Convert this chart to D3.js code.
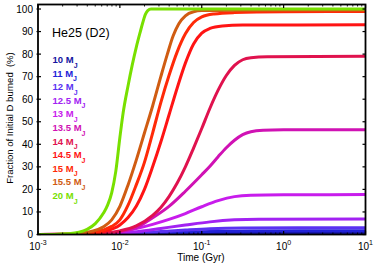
<!DOCTYPE html>
<html>
<head>
<meta charset="utf-8">
<script src="https://cdn.jsdelivr.net/npm/d3@7"></script>
<style>
  body { margin: 0; background: #fff; }
  svg { display: block; font-family: "Liberation Sans", Arial, sans-serif; }
</style>
</head>
<body>
<div id="chart"></div>
<script>
// masses (Jupiter masses) and their colours
var masses = ['10', '11', '12', '12.5', '13', '13.5', '14', '14.5', '15', '15.5', '20'];
var colors = ['#1414a0', '#2222d8', '#5a32f2', '#a222f2', '#c81cec', '#d012b4', '#e0124e', '#ff1414', '#ff2a08', '#d05c12', '#78e000'];

// [log10(time / Gyr), percent of D burned]
var d10 = [[-3, 0], [-1.8, 0.05], [-1.3, 0.2], [-0.8, 0.45], [-0.3, 0.55], [1, 0.6]];
var d11 = [[-3, 0], [-2, 0.05], [-1.6, 0.4], [-1.2, 1.0], [-0.8, 1.4], [-0.4, 1.6], [1, 1.7]];
var d12 = [[-3, 0], [-2.1, 0.1], [-1.8, 0.6], [-1.5, 1.3], [-1.2, 2.0], [-0.9, 2.6], [-0.5, 2.9], [1, 3.0]];
var d125 = [[-3, 0], [-2.2, 0.1], [-2, 0.5], [-1.7, 1.7], [-1.5, 2.7], [-1.2, 4.2], [-0.9, 5.6], [-0.6, 6.5], [-0.3, 6.8], [1, 6.9]];
var d13 = [[-3, 0], [-2.3, 0.1], [-2, 1.0], [-1.8, 2.6], [-1.6, 4.5], [-1.4, 6.7], [-1.2, 9.3], [-1, 12.3], [-0.8, 15.0],
  [-0.6, 16.8], [-0.4, 17.4], [0, 17.6], [1, 17.7]];
var d135 = [[-3, 0], [-2.4, 0.1], [-2, 1.2], [-1.8, 3], [-1.6, 7.4], [-1.4, 12.5], [-1.2, 19.2], [-1, 26.5], [-0.9, 30.3],
  [-0.8, 34.5], [-0.7, 38.5], [-0.6, 41.8], [-0.5, 44.3], [-0.4, 45.6], [-0.25, 46.2], [0, 46.4], [1, 46.5]];
var d14 = [[-3, 0], [-2.5, 0.1], [-2.2, 0.6], [-2, 1.6], [-1.8, 3.8], [-1.6, 8.5], [-1.5, 12], [-1.4, 16.8], [-1.3, 22.8],
  [-1.2, 30], [-1.1, 38.3], [-1, 47], [-0.9, 56], [-0.8, 64], [-0.7, 70.5], [-0.6, 75], [-0.5, 77.5], [-0.4, 78.4], [-0.2, 78.8], [1, 79]];
var d145 = [[-3, 0], [-2.6, 0.05], [-2.4, 0.4], [-2.2, 1.3], [-2, 4.2], [-1.9, 7.5], [-1.8, 12.5], [-1.7, 20], [-1.6, 30],
  [-1.5, 41], [-1.4, 53], [-1.3, 65], [-1.2, 76], [-1.1, 84.5], [-1, 89.3], [-0.9, 91.4], [-0.75, 92.5], [-0.5, 92.9], [1, 93]];
var d15 = [[-3, 0], [-2.6, 0.1], [-2.4, 0.6], [-2.2, 2.0], [-2.1, 3.6], [-2, 6.5], [-1.9, 13], [-1.8, 22], [-1.7, 32],
  [-1.6, 45], [-1.5, 58.5], [-1.4, 70.5], [-1.3, 81], [-1.2, 89], [-1.1, 94], [-1, 96.5], [-0.85, 97.8], [-0.6, 98.4], [0, 98.8], [1, 98.9]];
var d155 = [[-3, 0], [-2.7, 0.1], [-2.5, 0.5], [-2.35, 1.4], [-2.2, 3.4], [-2.1, 6.5], [-2, 12.5], [-1.9, 22], [-1.8, 33],
  [-1.7, 45], [-1.6, 57], [-1.5, 70], [-1.42, 80], [-1.35, 88], [-1.28, 93.5], [-1.2, 97], [-1.1, 98.8], [-1, 99.3], [-0.5, 99.5], [1, 99.6]];
var d20 = [[-3, 0], [-2.8, 0.05], [-2.65, 0.3], [-2.5, 1.0], [-2.4, 2.3], [-2.3, 4.8], [-2.2, 9.5], [-2.15, 13], [-2.1, 18.5],
  [-2.05, 28], [-2, 43], [-1.96, 54], [-1.9, 66], [-1.85, 75], [-1.8, 83], [-1.75, 90], [-1.72, 94], [-1.69, 97.5], [-1.66, 99.3],
  [-1.62, 100], [1, 100]];
var series = [d10, d11, d12, d125, d13, d135, d14, d145, d15, d155, d20];

var yTicks = [0, 10, 20, 30, 40, 50, 60, 70, 80, 90, 100];
var xTicks = [1e-3, 1e-2, 1e-1, 1e0, 1e1];
var xTickExp = ['-3', '-2', '-1', '0', '1'];

var width = 377, height = 266;
var plotL = 38, plotR = 365.5, plotT = 4.5, plotB = 234.5;

var svg = d3.select('#chart').append('svg').attr('width', width).attr('height', height);

var x = d3.scaleLog().domain([1e-3, 10]).range([plotL, plotR]);
var y = d3.scaleLinear().domain([0, 102]).range([plotB, plotT]);

svg.append('clipPath').attr('id', 'clip').append('rect')
  .attr('x', plotL).attr('y', plotT - 2).attr('width', plotR - plotL).attr('height', plotB - plotT + 2);

var line = d3.line()
  .x(function (d) { return x(Math.pow(10, d[0])); })
  .y(function (d) { return y(d[1]); })
  .curve(d3.curveMonotoneX);

var g = svg.append('g').attr('clip-path', 'url(#clip)');
series.forEach(function (s, i) {
  g.append('path').attr('d', line(s)).attr('fill', 'none')
    .attr('stroke', colors[i]).attr('stroke-width', 3).attr('stroke-linejoin', 'round');
});

// frame
svg.append('rect').attr('x', plotL).attr('y', plotT).attr('width', plotR - plotL).attr('height', plotB - plotT)
  .attr('fill', 'none').attr('stroke', '#000').attr('stroke-width', 1.8);

// y ticks (both sides, inward)
yTicks.forEach(function (v) {
  var yy = y(v);
  svg.append('line').attr('x1', plotL - 1.5).attr('x2', plotL + 3).attr('y1', yy).attr('y2', yy).attr('stroke', '#000').attr('stroke-width', 1.2);
  svg.append('line').attr('x1', plotR - 3).attr('x2', plotR).attr('y1', yy).attr('y2', yy).attr('stroke', '#000').attr('stroke-width', 1.2);
  svg.append('text').attr('x', plotL - 5).attr('y', yy).attr('dy', '0.35em').attr('text-anchor', 'end')
    .attr('font-size', 10).text(v);
});

// x ticks, major and minor, top and bottom
var minor = [];
for (var e = -3; e < 1; e++) for (var k = 2; k < 10; k++) minor.push(k * Math.pow(10, e));
minor.forEach(function (t) {
  svg.append('line').attr('x1', x(t)).attr('x2', x(t)).attr('y1', plotB).attr('y2', plotB - 2).attr('stroke', '#000').attr('stroke-width', 0.9);
  svg.append('line').attr('x1', x(t)).attr('x2', x(t)).attr('y1', plotT).attr('y2', plotT + 2).attr('stroke', '#000').attr('stroke-width', 0.9);
});
xTicks.forEach(function (t, i) {
  svg.append('line').attr('x1', x(t)).attr('x2', x(t)).attr('y1', plotB).attr('y2', plotB - 3.5).attr('stroke', '#000').attr('stroke-width', 1.2);
  svg.append('line').attr('x1', x(t)).attr('x2', x(t)).attr('y1', plotT).attr('y2', plotT + 3.5).attr('stroke', '#000').attr('stroke-width', 1.2);
  var tx = svg.append('text').attr('x', x(t)).attr('y', 249.5).attr('text-anchor', 'middle').attr('font-size', 10);
  tx.append('tspan').text('10');
  tx.append('tspan').attr('dy', -5).attr('font-size', 7).text(xTickExp[i]);
});

svg.append('text').attr('x', 201).attr('y', 261).attr('text-anchor', 'middle').attr('font-size', 10).text('Time (Gyr)');
svg.append('text').attr('transform', 'translate(13,118) rotate(-90)').attr('text-anchor', 'middle')
  .attr('font-size', 9.5).style('white-space', 'pre').text('Fraction of Initial D burned  (%)');

// title and legend
svg.append('text').attr('x', 52).attr('y', 37).attr('font-size', 12.5).text('He25 (D2)');
masses.forEach(function (m, i) {
  var t = svg.append('text').attr('x', 52.5).attr('y', 63 + i * 13.6).attr('font-size', 9.5)
    .attr('font-weight', 'bold').attr('fill', colors[i]);
  t.append('tspan').text(m + ' M');
  t.append('tspan').attr('dy', 4.5).attr('font-size', 7).text('J');
});
</script>
</body>
</html>
